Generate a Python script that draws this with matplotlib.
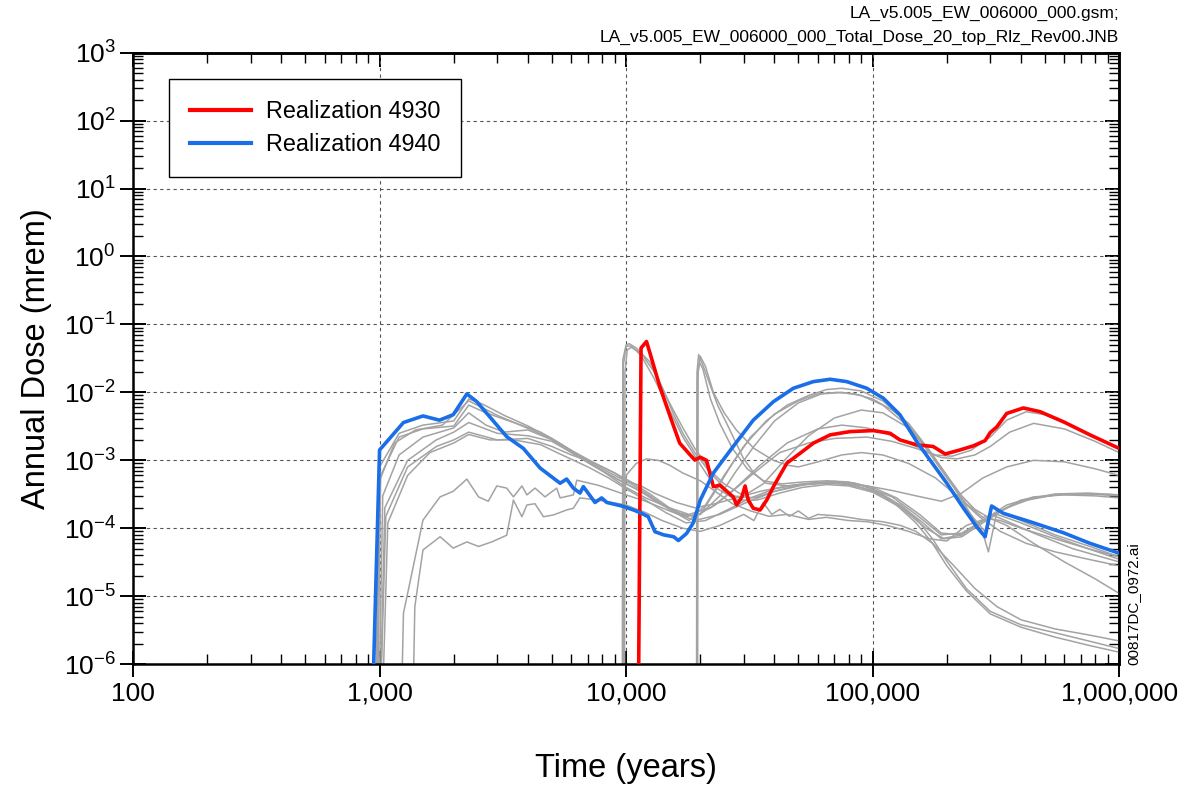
import numpy as np
import matplotlib
matplotlib.use("Agg")
import matplotlib.pyplot as plt
from matplotlib.ticker import LogLocator, FuncFormatter, NullFormatter

plt.rcParams['font.family'] = ['Liberation Sans', 'DejaVu Sans']
plt.rcParams['mathtext.fontset'] = 'custom'
plt.rcParams['mathtext.rm'] = 'Liberation Sans'
plt.rcParams['mathtext.it'] = 'Liberation Sans:italic'

# highlighted realizations (time in years, dose in mrem)
red_t = [11200, 11500, 12100, 12500, 13700, 15100, 16500, 18200, 19000, 20000, 21200, 22600,
         24000, 25600, 27200, 28100, 29500, 30400, 31300, 32800, 35000, 37200, 39600, 44900,
         50800, 57500, 67300, 81100, 100700, 117800, 129000, 151000, 176000, 197000, 226000,
         256000, 286000, 300000, 319000, 350000, 409000, 478000, 594000, 762000, 1000000]
red_dose = [1e-7, 4.5e-2, 5.6e-2, 3.8e-2, 1.22e-2, 4.4e-3, 1.79e-3, 1.2e-3, 1.01e-3, 1.11e-3,
            1.0e-3, 4.1e-4, 4.3e-4, 3.5e-4, 2.9e-4, 2.2e-4, 2.9e-4, 4.2e-4, 2.6e-4, 1.97e-4,
            1.86e-4, 2.6e-4, 4.1e-4, 9.1e-4, 1.27e-3, 1.79e-3, 2.37e-3, 2.65e-3, 2.74e-3, 2.5e-3,
            2.0e-3, 1.69e-3, 1.6e-3, 1.24e-3, 1.42e-3, 1.63e-3, 1.95e-3, 2.56e-3, 3.1e-3, 4.9e-3,
            5.9e-3, 5.2e-3, 3.7e-3, 2.37e-3, 1.5e-3]

blue_t = [930, 1000, 1250, 1500, 1750, 1990, 2260, 2480, 3280, 3830, 4480, 5400, 5740, 6110,
          6500, 6710, 7480, 7960, 8350, 9750, 10700, 11400, 12300, 13100, 14200, 15600, 16300,
          17600, 18700, 20000, 22600, 27200, 32800, 39600, 47700, 57500, 67300, 78600, 94700,
          110600, 129000, 151000, 171000, 200000, 234000, 264000, 286000, 304000, 339000,
          435000, 594000, 762000, 1000000]
blue_dose = [1e-7, 1.42e-3, 3.6e-3, 4.5e-3, 3.9e-3, 4.7e-3, 9.5e-3, 7.3e-3, 2.23e-3, 1.5e-3,
             7.7e-4, 4.6e-4, 5.3e-4, 3.9e-4, 3.3e-4, 4.1e-4, 2.4e-4, 2.8e-4, 2.4e-4, 2.1e-4,
             1.86e-4, 1.7e-4, 1.48e-4, 8.9e-5, 8.0e-5, 7.5e-5, 6.6e-5, 8.4e-5, 1.19e-4, 2.6e-4,
             6.5e-4, 1.6e-3, 3.9e-3, 7.3e-3, 1.15e-2, 1.44e-2, 1.56e-2, 1.44e-2, 1.15e-2, 8.2e-3,
             4.7e-3, 1.89e-3, 1.01e-3, 4.6e-4, 1.97e-4, 1.06e-4, 7.5e-5, 2.13e-4, 1.66e-4,
             1.25e-4, 8.6e-5, 6.0e-5, 4.3e-5]

# other top realizations (gray)
g01_t = [960, 1000, 1200, 1500, 2000, 2300, 2600, 3200, 4000, 5000, 6000, 7500, 9000, 10500,
         12500, 15000, 18000, 21000, 25000, 30000, 37000, 45000, 55000, 65000, 75000, 90000,
         110000, 130000, 160000, 200000, 240000, 280000, 295000, 320000, 400000, 550000, 750000, 1000000]
g01_d = [1e-7, 8e-4, 2.5e-3, 3.3e-3, 3.8e-3, 8e-3, 6.8e-3, 4.6e-3, 3.2e-3, 2.1e-3, 1.4e-3, 8.5e-4,
         6e-4, 4.5e-4, 3.0e-4, 1.9e-4, 1.3e-4, 2.2e-4, 6e-4, 1.6e-3, 3.8e-3, 6.5e-3, 9e-3, 1.1e-2,
         1.15e-2, 1.05e-2, 7.5e-3, 4.5e-3, 1.8e-3, 6e-4, 2.0e-4, 8.5e-5, 4.5e-5, 1.8e-4, 1.3e-4,
         8e-5, 5.5e-5, 3.8e-5]

g02_t = [980, 1010, 1200, 1500, 2000, 2300, 2700, 3500, 4500, 5500, 6500, 8000, 10000, 12000,
         14000, 17000, 20000, 23000, 27000, 32000, 40000, 50000, 60000, 72000, 85000, 100000,
         120000, 140000, 170000, 210000, 250000, 285000, 300000, 330000, 450000, 650000, 1000000]
g02_d = [1e-7, 6e-4, 2.2e-3, 2.9e-3, 3.2e-3, 6.5e-3, 5.0e-3, 3.6e-3, 2.6e-3, 1.7e-3, 1.1e-3, 7e-4,
         4.5e-4, 3.2e-4, 2.2e-4, 1.5e-4, 1.6e-4, 3.5e-4, 9e-4, 2.2e-3, 4.8e-3, 7.5e-3, 9.5e-3,
         1.0e-2, 9.5e-3, 8e-3, 5.5e-3, 3.5e-3, 1.4e-3, 4.5e-4, 1.6e-4, 9e-5, 1.6e-4, 1.4e-4,
         8.5e-5, 5e-5, 3.2e-5]

g03_t = [990, 1030, 1200, 1500, 2000, 2300, 2700, 3200, 4000, 5000, 6000, 7500, 9500, 11000,
         13000, 16000, 19000, 23000, 28000, 35000, 45000, 60000, 75000, 95000, 120000, 150000,
         180000, 210000, 250000, 300000, 350000, 420000, 500000, 700000, 1000000]
g03_d = [1e-7, 3e-4, 1.2e-3, 2.2e-3, 3.0e-3, 5e-3, 3.3e-3, 2.6e-3, 2.8e-3, 2.0e-3, 1.3e-3, 8e-4,
         5e-4, 3.8e-4, 2.6e-4, 1.7e-4, 1.5e-4, 2.2e-4, 4e-4, 8.5e-4, 1.8e-3, 2.9e-3, 3.3e-3,
         3.0e-3, 2.3e-3, 1.6e-3, 1.2e-3, 1.15e-3, 1.4e-3, 2.2e-3, 3.9e-3, 5.2e-3, 4.7e-3, 2.8e-3,
         1.45e-3]

g04_t = [1000, 1050, 1300, 1700, 2000, 2300, 3000, 4000, 5000, 6000, 8000, 10000, 12000, 15000,
         18000, 22000, 27000, 33000, 42000, 55000, 70000, 95000, 120000, 150000, 190000, 220000,
         260000, 300000, 360000, 450000, 600000, 800000, 1000000]
g04_d = [1e-7, 2e-4, 1e-3, 2e-3, 2.6e-3, 3.6e-3, 2.5e-3, 2.3e-3, 1.9e-3, 1.3e-3, 7e-4, 4e-4,
         2.8e-4, 2e-4, 1.6e-4, 2.0e-4, 3.5e-4, 6.5e-4, 1.3e-3, 1.8e-3, 2.1e-3, 2.2e-3, 1.9e-3,
         1.5e-3, 1.1e-3, 1.05e-3, 1.2e-3, 1.6e-3, 2.6e-3, 3.5e-3, 2.9e-3, 1.9e-3, 1.3e-3]

g05_t = [1000, 1060, 1300, 1700, 2000, 2300, 3000, 4000, 5000, 6000, 7500, 9000, 10000, 11500,
         13000, 16000, 19000, 23000, 28000, 35000, 45000, 60000, 75000, 95000, 120000, 150000,
         190000, 230000, 280000, 350000, 450000, 600000, 800000, 1000000]
g05_d = [1e-7, 1.5e-4, 8e-4, 1.6e-3, 2e-3, 2.6e-3, 2e-3, 2.1e-3, 1.6e-3, 1.2e-3, 9e-4, 6.5e-4,
         5e-4, 4.2e-4, 3.3e-4, 2.4e-4, 2.0e-4, 2.3e-4, 2.8e-4, 3.5e-4, 4.2e-4, 4.6e-4, 4.6e-4,
         4.2e-4, 3.6e-4, 3.0e-4, 2.5e-4, 3.3e-4, 5.5e-4, 8e-4, 1.0e-3, 9.5e-4, 7.5e-4, 6e-4]

g06_t = [1220, 1250, 1500, 1760, 1990, 2260, 2520, 2760, 2990, 3280, 3490, 3780, 3960, 4270,
         4690, 5230, 5400, 6110, 6310, 7700, 10000, 12000, 15000, 19000, 24000, 30000, 40000,
         55000, 70000, 90000, 120000, 150000, 190000, 230000, 300000, 400000, 550000, 750000, 1000000]
g06_d = [1e-7, 5.6e-6, 1.32e-4, 2.9e-4, 3.5e-4, 5.3e-4, 2.9e-4, 2.5e-4, 4.2e-4, 3.9e-4, 2.9e-4,
         4.2e-4, 3.1e-4, 3.9e-4, 2.9e-4, 3.9e-4, 2.8e-4, 3.1e-4, 5.1e-4, 4.3e-4, 3.1e-4, 2.5e-4,
         1.8e-4, 1.3e-4, 1.6e-4, 2.3e-4, 3.5e-4, 4.5e-4, 4.8e-4, 4.3e-4, 2.9e-4, 1.6e-4, 8e-5,
         8.5e-5, 1.5e-4, 2.5e-4, 3.1e-4, 3.2e-4, 3.0e-4]

g07_t = [1360, 1390, 1500, 1760, 1990, 2260, 2520, 2850, 3280, 3490, 3780, 3960, 4270, 4620,
         5070, 5740, 6110, 6500, 7700, 10000, 12000, 14000, 17000, 20000, 24000, 30000, 33000,
         36000, 39000, 42000, 46000, 50000, 55000, 60000, 75000, 90000, 110000, 130000, 150000,
         175000, 210000, 260000, 320000, 400000, 550000, 750000, 1000000]
g07_d = [1e-7, 7e-6, 4.8e-5, 7.5e-5, 5.1e-5, 6.3e-5, 5.4e-5, 6.3e-5, 7.9e-5, 2.6e-4, 1.48e-4,
         2.2e-4, 2.3e-4, 1.48e-4, 1.57e-4, 1.86e-4, 1.97e-4, 2.8e-4, 2.6e-4, 2.2e-4, 1.7e-4,
         1.3e-4, 1.0e-4, 9e-5, 1.1e-4, 1.6e-4, 1.3e-4, 2.4e-4, 1.6e-4, 1.9e-4, 1.5e-4, 1.8e-4,
         1.4e-4, 1.6e-4, 1.5e-4, 1.35e-4, 1.25e-4, 1.1e-4, 9e-5, 6e-5, 3e-5, 1.3e-5, 7e-6,
         4.5e-6, 3.3e-6, 2.7e-6, 2.2e-6]

g08_t = [9650, 9700, 10000, 10300, 11000, 12500, 14000, 15500, 17000, 19000, 22000, 27000,
         33000, 40000, 50000, 65000, 80000, 100000, 130000, 160000, 190000, 230000, 300000,
         400000, 550000, 750000, 1000000]
g08_d = [1e-7, 3e-2, 5e-2, 5.2e-2, 4.5e-2, 2.8e-2, 1.2e-2, 5e-3, 2.5e-3, 1.3e-3, 6.5e-4, 3e-4,
         2.8e-4, 3.5e-4, 4.3e-4, 4.6e-4, 4.4e-4, 3.6e-4, 2.2e-4, 1.2e-4, 7e-5, 8e-5, 1.5e-4,
         2.6e-4, 3.2e-4, 3.3e-4, 3.1e-4]

g09_t = [9850, 9900, 10100, 10500, 11500, 13000, 15000, 17000, 19000, 22000, 25000, 30000,
         36000, 45000, 55000, 70000, 90000, 110000, 140000, 170000, 200000, 230000, 260000,
         300000, 350000, 450000, 600000, 800000, 1000000]
g09_d = [1e-7, 2e-2, 4.2e-2, 4.6e-2, 3.8e-2, 2.0e-2, 7e-3, 3e-3, 1.5e-3, 7e-4, 4.5e-4, 3.0e-4,
         4.5e-4, 1.1e-3, 2.3e-3, 4.2e-3, 5.5e-3, 5e-3, 3.0e-3, 1.4e-3, 6e-4, 3e-4, 1.9e-4,
         1.4e-4, 1.1e-4, 6e-5, 3.2e-5, 1.8e-5, 1.1e-5]

g10_t = [19300, 19400, 19700, 20500, 21900, 23500, 25500, 29800, 33000, 37000, 45000, 55000,
         70000, 85000, 100000, 120000, 150000, 175000, 200000, 240000, 300000, 400000, 550000,
         750000, 1000000]
g10_d = [1e-7, 2e-2, 3.6e-2, 2.5e-2, 1.3e-2, 6.5e-3, 3.6e-3, 1.1e-3, 6.5e-4, 4.6e-4, 4.2e-4,
         4.6e-4, 4.9e-4, 4.6e-4, 3.8e-4, 2.6e-4, 1.4e-4, 7e-5, 3.3e-5, 1.3e-5, 6e-6, 3.8e-6,
         2.9e-6, 2.2e-6, 1.7e-6]

g11_t = [19500, 19600, 20000, 21000, 22600, 25000, 28000, 33000, 39600, 45000, 50000, 60000,
         75000, 90000, 110000, 140000, 180000, 220000, 270000, 330000, 420000, 550000, 750000, 1000000]
g11_d = [1e-7, 2e-2, 3.4e-2, 2.4e-2, 1e-2, 5e-3, 2.8e-3, 1.5e-3, 1.0e-3, 8.5e-4, 8e-4, 9.5e-4,
         1.2e-3, 1.3e-3, 1.2e-3, 9e-4, 5.5e-4, 3.0e-4, 1.5e-4, 9e-5, 6e-5, 4.5e-5, 3.5e-5, 2.8e-5]

g12_t = [970, 1000, 1150, 1400, 1800, 2300, 2600, 3000, 3800, 4800, 6000, 7500, 9000, 10500,
         12500, 15000, 17500, 20000, 24000, 28000, 33000, 40000, 50000, 62000, 75000, 90000,
         110000, 135000, 165000, 200000, 240000, 280000, 320000, 400000, 550000, 750000, 1000000]
g12_d = [1e-7, 5e-4, 1.8e-3, 2.8e-3, 3.3e-3, 7.5e-3, 6e-3, 4.6e-3, 3.2e-3, 2.2e-3, 1.4e-3, 9e-4,
         6.5e-4, 4.8e-4, 3.2e-4, 2.0e-4, 1.5e-4, 1.6e-4, 3.0e-4, 7e-4, 1.6e-3, 3.8e-3, 7e-3,
         9.5e-3, 1.0e-2, 9e-3, 6.5e-3, 3.5e-3, 1.5e-3, 5.5e-4, 2.3e-4, 1.45e-4, 1.6e-4, 1.2e-4,
         7.5e-5, 5e-5, 3.5e-5]

g13_t = [1020, 1080, 1300, 1600, 2000, 2300, 2800, 3500, 4500, 5500, 7000, 8500, 10000, 12000,
         14500, 17500, 21000, 26000, 32000, 40000, 50000, 62000, 75000, 90000, 110000, 135000,
         165000, 195000, 230000, 280000, 350000, 450000, 600000, 800000, 1000000]
g13_d = [1e-7, 1.2e-4, 6e-4, 1.3e-3, 1.8e-3, 2.4e-3, 2.0e-3, 2.0e-3, 1.7e-3, 1.2e-3, 8e-4,
         5.5e-4, 3.8e-4, 2.6e-4, 1.7e-4, 1.2e-4, 1.3e-4, 1.9e-4, 2.8e-4, 3.8e-4, 4.4e-4, 4.7e-4,
         4.6e-4, 4.0e-4, 3.0e-4, 1.8e-4, 1.0e-4, 7e-5, 7.5e-5, 1.2e-4, 2.0e-4, 2.8e-4, 3.2e-4,
         3.2e-4, 3.1e-4]

g14_t = [9700, 9750, 10000, 10500, 11500, 13000, 15000, 17000, 19500, 23000, 28000, 34000,
         42000, 52000, 65000, 80000, 100000, 125000, 150000, 175000, 200000, 240000, 300000,
         400000, 550000, 750000, 1000000]
g14_d = [1e-7, 2.5e-2, 4.8e-2, 4.8e-2, 3.5e-2, 1.6e-2, 5.5e-3, 2.2e-3, 1.0e-3, 4e-4, 2.6e-4,
         2.6e-4, 3.3e-4, 4.0e-4, 4.4e-4, 4.2e-4, 3.4e-4, 2.2e-4, 1.2e-4, 6e-5, 2.8e-5, 1.2e-5,
         5.5e-6, 3.5e-6, 2.5e-6, 1.9e-6, 1.5e-6]

g15_t = [19400, 19450, 19800, 20500, 22000, 24000, 27000, 31000, 36000, 43000, 52000, 65000,
         80000, 100000, 125000, 155000, 190000, 230000, 280000, 350000, 450000, 600000, 800000, 1000000]
g15_d = [1e-7, 1.5e-2, 2.8e-2, 2.2e-2, 8e-3, 3.5e-3, 1.5e-3, 7.5e-4, 5e-4, 4.5e-4, 4.8e-4,
         5e-4, 4.8e-4, 4e-4, 2.8e-4, 1.6e-4, 8.5e-5, 8e-5, 1.3e-4, 2.2e-4, 2.9e-4, 3.1e-4,
         3.0e-4, 2.8e-4]

g16_t = [9750, 9800, 10000, 11000, 12100, 13500, 15000, 17000, 20000, 23000, 27000, 32000,
         38000, 45000, 55000, 65000, 80000, 95000, 115000, 140000, 170000, 200000, 240000,
         290000, 330000, 400000, 550000, 750000, 1000000]
g16_d = [1e-7, 2e-4, 6e-4, 9e-4, 1.05e-3, 1.0e-3, 8.5e-4, 6.5e-4, 5e-4, 3.5e-4, 2.3e-4, 1.8e-4,
         1.5e-4, 1.6e-4, 1.35e-4, 1.45e-4, 1.3e-4, 1.25e-4, 1.1e-4, 9e-5, 7e-5, 6.5e-5, 1.1e-4,
         1.4e-4, 1.3e-4, 1.0e-4, 7e-5, 5e-5, 3.8e-5]

gray_series = [(g01_t, g01_d), (g02_t, g02_d), (g03_t, g03_d), (g04_t, g04_d),
               (g05_t, g05_d), (g06_t, g06_d), (g07_t, g07_d), (g08_t, g08_d),
               (g09_t, g09_d), (g10_t, g10_d), (g11_t, g11_d), (g12_t, g12_d),
               (g13_t, g13_d), (g14_t, g14_d), (g15_t, g15_d), (g16_t, g16_d)]

x_ticks = [100, 1000, 10000, 100000, 1000000]
x_labels = ["100", "1,000", "10,000", "100,000", "1,000,000"]

fig = plt.figure(figsize=(11.88, 7.86), dpi=100)
ax = fig.add_axes([0.112, 0.155, 0.830, 0.778])

for t, d in gray_series:
    ax.plot(t, d, color='#a3a3a3', lw=1.1, zorder=2)

ax.plot(red_t, red_dose, color='#ff0000', lw=2.6, zorder=3, label='Realization 4930')
ax.plot(blue_t, blue_dose, color='#1a6ee8', lw=2.6, zorder=4, label='Realization 4940')

ax.set_xscale('log')
ax.set_yscale('log')
ax.set_xlim(100, 1e6)
ax.set_ylim(1e-6, 1e3)

sub = np.arange(2, 10)
ax.set_xticks(x_ticks)
ax.set_xticklabels(x_labels)
ax.xaxis.set_minor_locator(LogLocator(base=10, subs=sub, numticks=20))
ax.xaxis.set_minor_formatter(NullFormatter())
ax.yaxis.set_major_locator(LogLocator(base=10, numticks=20))
ax.yaxis.set_minor_locator(LogLocator(base=10, subs=sub, numticks=20))
ax.yaxis.set_minor_formatter(NullFormatter())
ax.yaxis.set_major_formatter(FuncFormatter(lambda v, p: r'$10^{%d}$' % round(np.log10(v))))

# bottom / left: major ticks cross the frame, minor ticks inside
ax.tick_params(which='major', direction='inout', length=19, width=1.4, labelsize=19, pad=3)
ax.tick_params(which='minor', direction='in', length=7, width=1.0)

# top / right: inward ticks only
top = ax.secondary_xaxis('top')
top.set_xticks(x_ticks)
top.xaxis.set_minor_locator(LogLocator(base=10, subs=sub, numticks=20))
top.tick_params(which='major', direction='in', length=10, width=1.4, labeltop=False)
top.tick_params(which='minor', direction='in', length=7, width=1.0, labeltop=False)
right = ax.secondary_yaxis('right')
right.yaxis.set_major_locator(LogLocator(base=10, numticks=20))
right.yaxis.set_minor_locator(LogLocator(base=10, subs=sub, numticks=20))
right.tick_params(which='major', direction='in', length=10, width=1.4, labelright=False)
right.tick_params(which='minor', direction='in', length=7, width=1.0, labelright=False)

for s in ax.spines.values():
    s.set_linewidth(1.8)
for s in list(top.spines.values()) + list(right.spines.values()):
    s.set_linewidth(1.8)

ax.grid(True, which='major', color='#555555', lw=0.8, ls=(0, (3, 3)), zorder=1)

ax.set_xlabel('Time (years)', fontsize=23.5, labelpad=34)
ax.set_ylabel('Annual Dose (mrem)', fontsize=23.5, labelpad=8)

leg = ax.legend(loc='upper left', bbox_to_anchor=(0.0365, 0.957), borderaxespad=0,
                fontsize=16.8, frameon=True, fancybox=False, edgecolor='black',
                framealpha=1, borderpad=0.9, handlelength=2.6, handletextpad=0.65,
                labelspacing=0.45)
leg.get_frame().set_linewidth(1.0)
for h in leg.get_lines():
    h.set_linewidth(3)

fig.text(0.942, 0.983, 'LA_v5.005_EW_006000_000.gsm;', ha='right', va='center', fontsize=12.5)
fig.text(0.942, 0.953, 'LA_v5.005_EW_006000_000_Total_Dose_20_top_Rlz_Rev00.JNB',
         ha='right', va='center', fontsize=12.5)
fig.text(0.954, 0.232, '00817DC_0972.ai', rotation=90, ha='center', va='center', fontsize=11)

fig.savefig('out.png', dpi=100)
